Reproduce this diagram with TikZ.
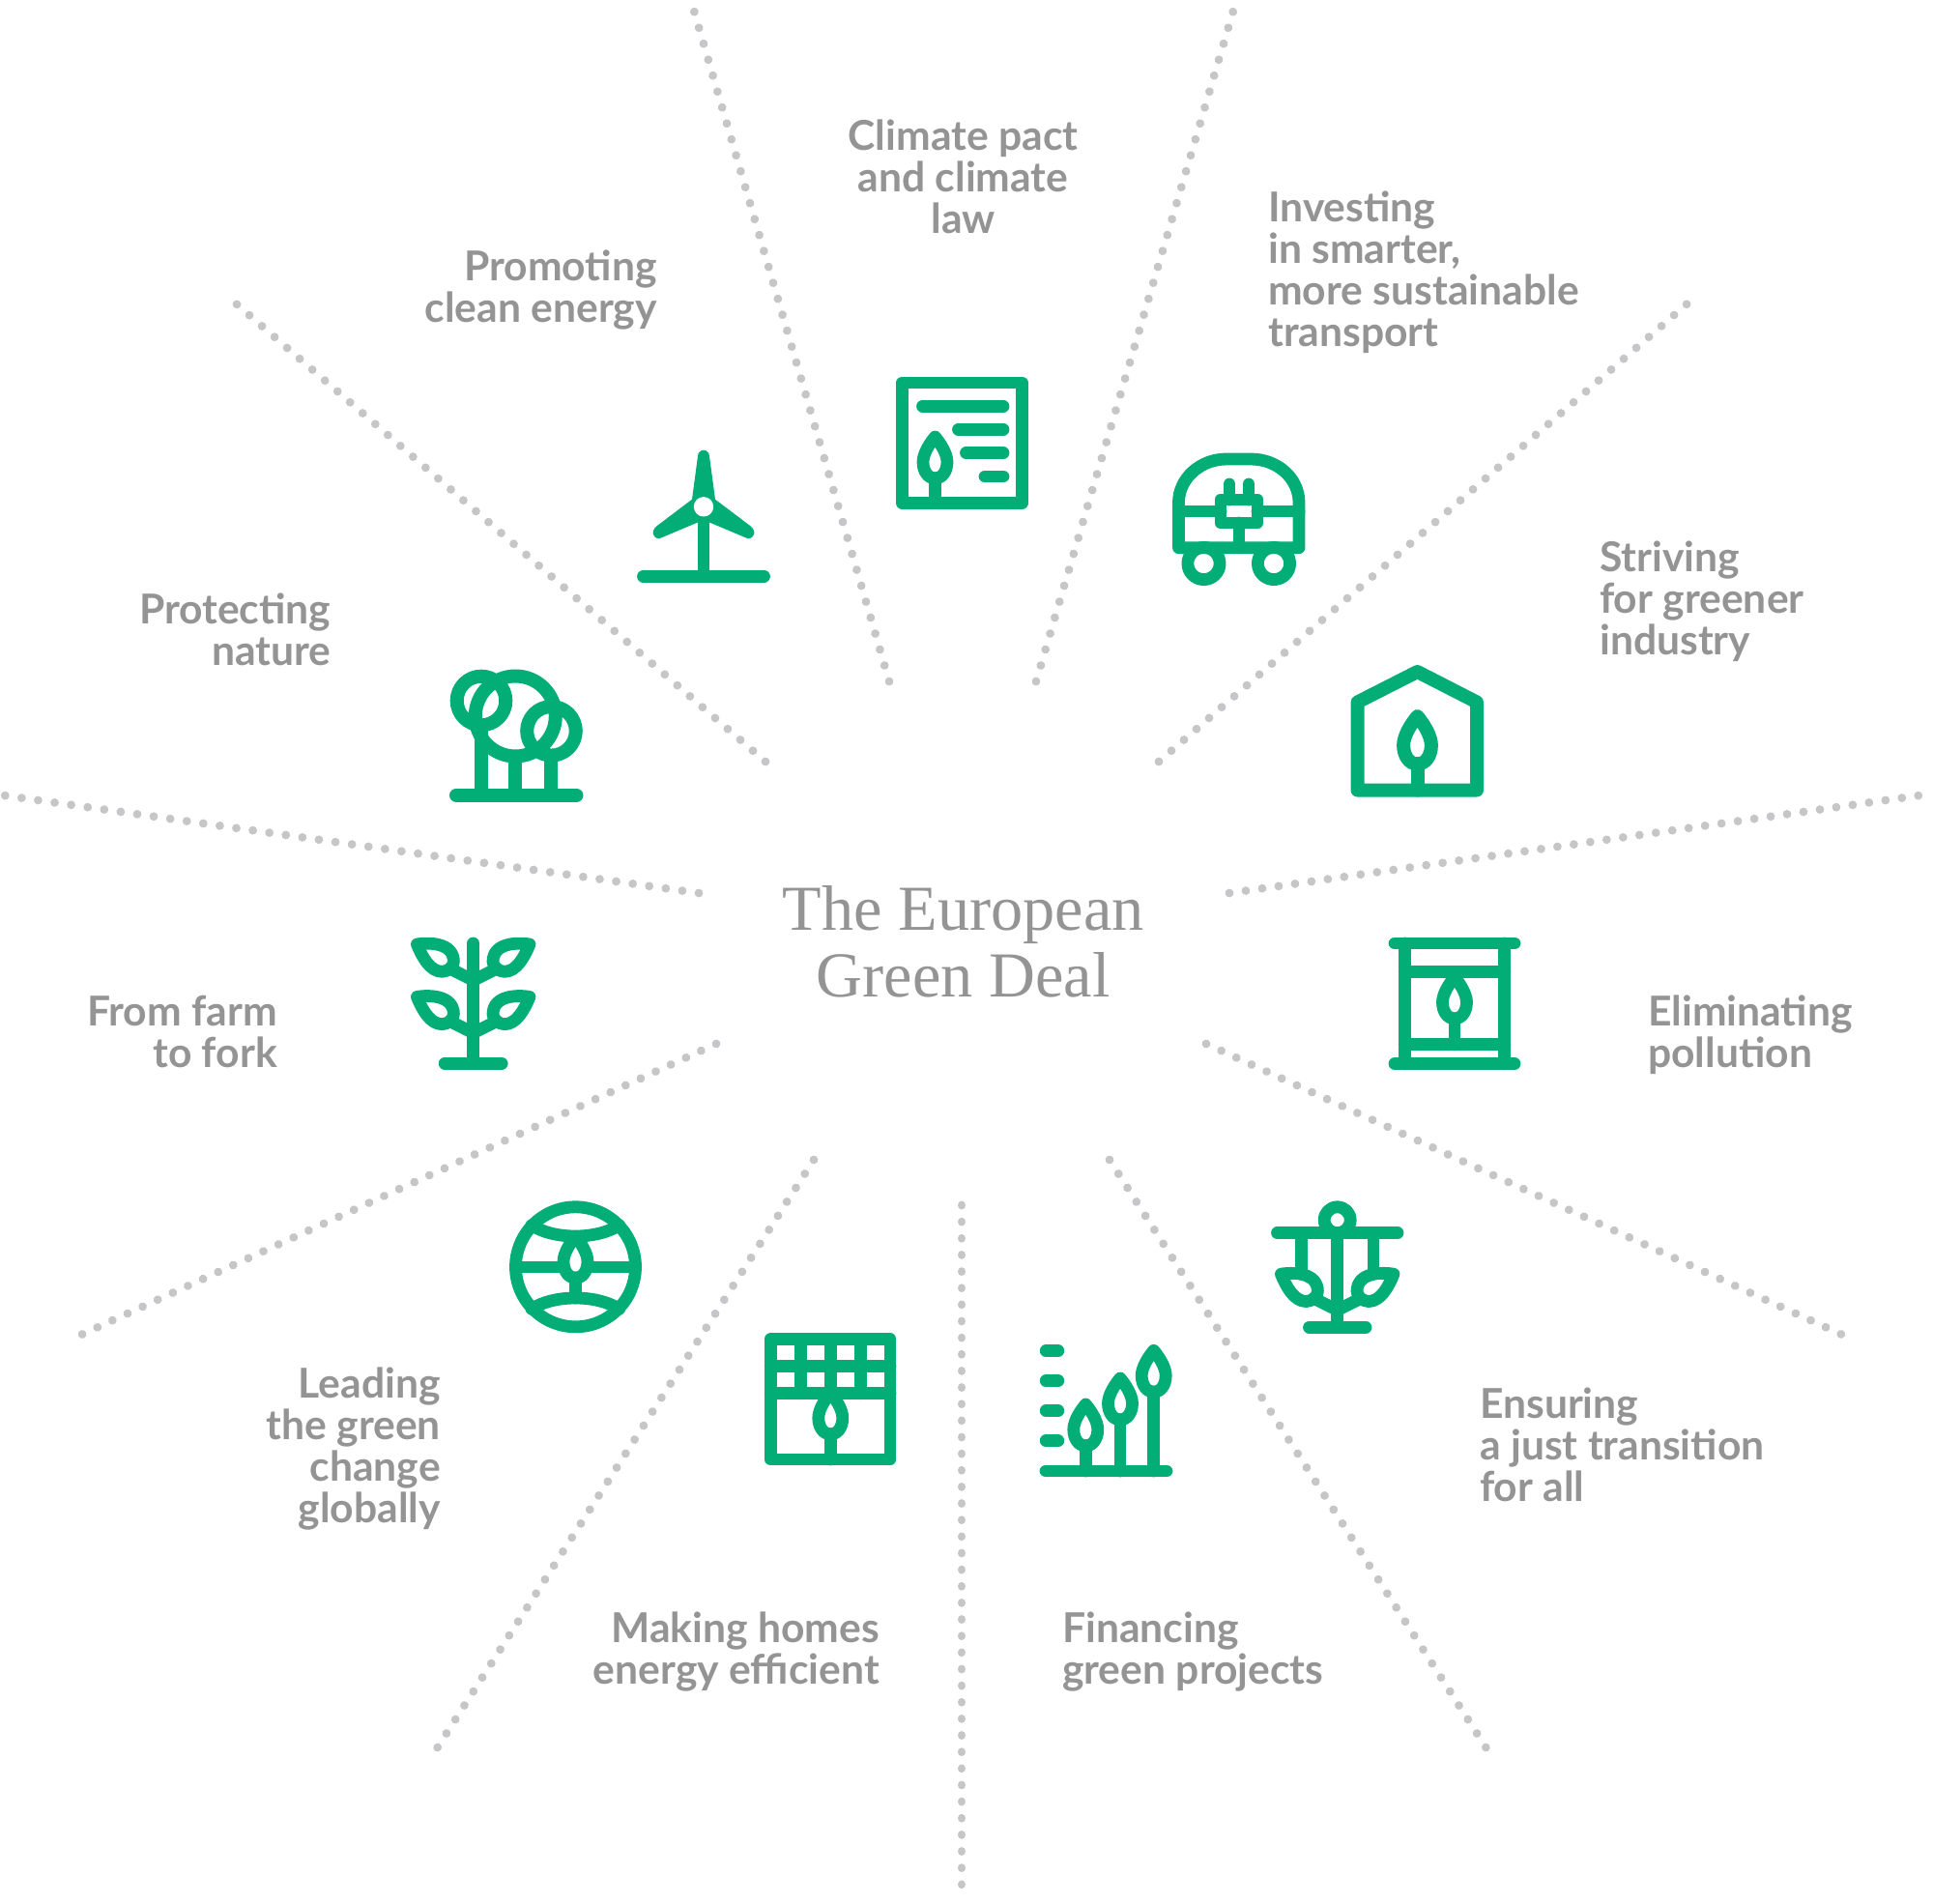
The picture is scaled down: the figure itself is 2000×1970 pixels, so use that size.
\documentclass[tikz,border=0pt]{standalone}
\usepackage{fontspec}
\setmainfont{Lato}
\newfontfamily\lblfont{Lato}
\newfontfamily\ttlfont{Liberation Serif}
\definecolor{gr}{HTML}{02AD76}
\definecolor{dotc}{HTML}{C6C6C8}
\definecolor{txt}{HTML}{949494}
\tikzset{
  ic/.style={draw=gr,line width=12.8pt,line cap=round,line join=round},
  thick ic/.style={line width=14pt},
  dotline/.style={draw=dotc,line width=8.8pt,line cap=round},
  lbl/.style={font=\lblfont\bfseries\fontsize{42.6}{43}\selectfont,text=txt,inner sep=0pt},
  ttl/.style={font=\ttlfont\fontsize{66.3}{69}\selectfont,text=txt,inner sep=0pt,align=center}
}
\newcommand\flame[4][]{\draw[ic,#1,shift={(#2,#3)},scale=#4] (0,-26) .. controls (-5,-20) and (-12.5,-9) .. (-12.5,0) .. controls (-12.5,10) and (-7,17) .. (0,17) .. controls (7,17) and (12.5,10) .. (12.5,0) .. controls (12.5,-9) and (5,-20) .. cycle;}
\newcommand\leafat[3]{\draw[ic,shift={(#1,#2)},xscale=#3] (-58.3,-36.3) .. controls (-46.3,-38.3) and (-20.3,-38.3) .. (-20.3,-18.3) .. controls (-20.3,-13.3) and (-26.3,-8) .. (-32.3,-8) .. controls (-44.7,-8) and (-53,-23.3) .. cycle;
\draw[ic,shift={(#1,#2)},xscale=#3] (-24,-11) -- (0,1);}
\begin{document}
\begin{tikzpicture}[x=1pt,y=-1pt]
\useasboundingbox (0,0) rectangle (2000,1970);
% dotted rays: the gap is fitted so that a dot falls on each end
\foreach \a/\b/\c/\d in {920/705/718/11,1072/705/1276/11,1199/788/1746/314,1272/924/1986/823,1248/1080/1906/1381,1148/1200/1538/1809,995/1247/995/1951,842/1200/452/1809,741/1080/84/1381,723/924/4/823,792/788/244/314}{
  \pgfmathsetmacro\gapl{veclen(\c-\a,\d-\b)/round(veclen(\c-\a,\d-\b)/17.2)-0.04}
  \draw[dotline,dash pattern={on 0.01pt off \gapl pt}] (\a,\b) -- (\c,\d);
}
% climate pact document
\begin{scope}[xshift=-2.5pt]
\draw[ic] (936,396) rectangle (1060,520.5);
\draw[ic] (957,420.3) -- (1040.5,420.3) (994,444.3) -- (1040.5,444.3) (1002,468.7) -- (1040.5,468.7) (1021.5,493) -- (1040.5,493);
\flame{970}{478}{1}
\draw[ic] (970,495) -- (970,520);
\end{scope}
% turbine
\draw[ic] (665.5,596.3) -- (790.5,596.3) (728,530) -- (728,596.3);
\fill[gr] (722,472) .. controls (722,468.5) and (725,465.7) .. (728,465.7) .. controls (731,465.7) and (734,468.5) .. (734,472) -- (740,516.7) -- (776.5,544.3) .. controls (780,547) and (781,551) .. (780,553) .. controls (778.5,556.5) and (775.5,558) .. (772.5,556.7) -- (734.5,540.7) -- (721.5,540.7) -- (683.5,556.7) .. controls (680.5,558) and (677.5,556.5) .. (676,553) .. controls (675,551) and (676,547) .. (679.5,544.3) -- (716,516.7) -- cycle;
\fill[white] (728,524.3) circle[radius=10.2];
% car
\begin{scope}[xshift=-3pt]
\draw[ic] (1222.5,566.7) -- (1222.5,520) .. controls (1222.5,495) and (1245,475) .. (1272,475) -- (1297,475) .. controls (1325,475) and (1347,495) .. (1347,520) -- (1347,566.7) -- cycle;
\draw[ic] (1222.5,529) -- (1266,529) (1304,529) -- (1347,529) (1285,541) -- (1285,566.7) (1275,501) -- (1275,517) (1295,501) -- (1295,517);
\draw[ic] (1266,517) rectangle (1304,541);
\draw[ic] (1248.5,583) circle[radius=16.6] (1321,583) circle[radius=16.6];
\end{scope}
% house
\draw[ic,thick ic] (1404.5,817.5) -- (1404.5,726.5) -- (1466.5,695) -- (1528,726.5) -- (1528,817.5) -- cycle;
\flame[thick ic]{1466.5}{771}{1.15}
\draw[ic,thick ic] (1466.5,790) -- (1466.5,817.5);
% barrel
\draw[ic] (1443,976) -- (1567,976) (1443,1100.7) -- (1567,1100.7);
\draw[ic] (1453.3,976) -- (1453.3,1100.7) (1556.7,976) -- (1556.7,1100.7) (1453.3,1005.3) -- (1556.7,1005.3) (1453.3,1080.7) -- (1556.7,1080.7);
\flame{1505}{1037}{1}
\draw[ic] (1505,1054) -- (1505,1080.7);
% scales
\draw[ic] (1321.5,1275.7) -- (1446,1275.7) (1383.7,1275.7) -- (1383.7,1373.3) (1354.5,1373.3) -- (1413,1373.3) (1346.3,1275.7) -- (1346.3,1318) (1421,1275.7) -- (1421,1318);
\draw[ic] (1383.7,1262.3) circle[radius=13.5];
\leafat{1383.7}{1354.5}{1}
\leafat{1383.7}{1354.5}{-1}
% financing
\draw[ic] (1082,1522) -- (1207,1522);
\foreach \yy in {1397.7,1428.7,1459.7,1490.7} \draw[ic] (1082.2,\yy) -- (1094.8,\yy);
\flame{1123.3}{1479}{1} \draw[ic] (1123.3,1496) -- (1123.3,1522);
\flame{1159}{1452}{1} \draw[ic] (1159,1469) -- (1159,1522);
\flame{1193.7}{1423.3}{1} \draw[ic] (1193.7,1440) -- (1193.7,1522);
% homes
\draw[ic] (797.3,1385.5) rectangle (921,1510);
\draw[ic] (797.3,1413.7) -- (921,1413.7) (797.3,1441.7) -- (921,1441.7) (828.2,1385.5) -- (828.2,1441.7) (859.2,1385.5) -- (859.2,1441.7) (890.3,1385.5) -- (890.3,1441.7);
\flame{859.3}{1467}{1}
\draw[ic] (859.3,1484) -- (859.3,1510);
% globe
\draw[ic] (595.5,1310.8) circle[radius=62];
\draw[ic] (533.5,1311) -- (583,1311) (608,1311) -- (657.5,1311);
\draw[ic] (550,1267.7) .. controls (573.3,1282.8) and (617.3,1282.8) .. (640.7,1267.7);
\draw[ic] (550,1354.3) .. controls (573.3,1339.2) and (617.3,1339.2) .. (640.7,1354.3);
\flame{595.5}{1305.3}{1}
\draw[ic] (595.5,1322) -- (595.5,1343);
% sprout
\draw[ic] (489.7,976) -- (489.7,1100.3) (460.2,1100.3) -- (519.2,1100.3);
\leafat{489.7}{1013.3}{1}
\leafat{489.7}{1013.3}{-1}
\leafat{489.7}{1067.7}{1}
\leafat{489.7}{1067.7}{-1}
% trees
\draw[ic,thick ic] (472,822.7) -- (596.5,822.7) (498.3,750) -- (498.3,822.7) (533.3,783) -- (533.3,822.7) (570.3,782) -- (570.3,822.7);
\draw[ic,thick ic] (498,725) circle[radius=25.3] (533.3,741) circle[radius=41.5] (570.5,756.3) circle[radius=25.3];
% title
\node[ttl,anchor=base] (title) at (996.8,1031.7) {The European\\Green Deal};
% labels
\node[lbl,align=center,anchor=north] (l1) at (996.5,124) {Climate pact\\and climate\\law};
\node[lbl,align=left,anchor=north west] (l2) at (1312,198) {Investing\\in smarter,\\more sustainable\\transport};
\node[lbl,align=left,anchor=north west] (l3) at (1655,560) {Striving\\for greener\\industry};
\node[lbl,align=left,anchor=north west] (l4) at (1705,1029.5) {Eliminating\\pollution};
\node[lbl,align=left,anchor=north west] (l5) at (1531,1436) {Ensuring\\a just transition\\for all};
\node[lbl,align=left,anchor=north west] (l6) at (1099,1668) {Financing\\green projects};
\node[lbl,align=right,anchor=north east] (l7) at (910,1668) {Making homes\\energy efficient};
\node[lbl,align=right,anchor=north east] (l8) at (456,1415) {Leading\\the green\\change\\globally};
\node[lbl,align=right,anchor=north east] (l9) at (287,1029.5) {From farm\\to fork};
\node[lbl,align=right,anchor=north east] (l10) at (342.5,614) {Protecting\\nature};
\node[lbl,align=right,anchor=north east] (l11) at (680,259) {Promoting\\clean energy};
\end{tikzpicture}
\end{document}
